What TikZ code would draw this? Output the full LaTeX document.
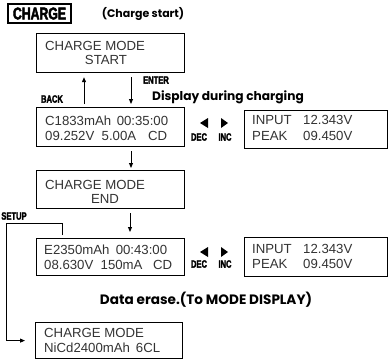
\documentclass[tikz,border=0pt]{standalone}
\usepackage{fontspec}
\setmainfont{Liberation Sans}
\newfontfamily\labfont[FakeStretch=0.72,FakeBold=2.5]{Liberation Sans}
\newfontfamily\geofont{Poppins}
\usetikzlibrary{arrows.meta}
\begin{document}
\begin{tikzpicture}[x=1pt,y=-1pt,
  box/.style={draw=black,line width=1.2pt,anchor=north west,inner sep=0pt},
  txt/.style={anchor=base west,inner sep=0pt,font=\fontsize{13.2}{15}\selectfont,text=black!80},
  lab/.style={inner sep=0pt,font=\labfont\bfseries\fontsize{10.5}{11}\selectfont},
  head/.style={inner sep=0pt,font=\geofont\bfseries\fontsize{11}{12}\selectfont},
  arr/.style={line width=0.9pt,-{Triangle[length=5pt,width=4pt]}},
  tri/.style={fill=black}]
\useasboundingbox (0,0) rectangle (388,360);
% title
\node[draw=black,line width=2pt,minimum width=63pt,minimum height=19pt,inner sep=0pt,
      font=\labfont\bfseries\fontsize{17}{17}\selectfont] (title) at (39.5,13.5) {CHARGE};
\node[head] (hstart) at (143,14) {(Charge start)};
% boxes
\node[box,minimum width=148pt,minimum height=39pt] (b1) at (36,33) {};
\node[box,minimum width=148pt,minimum height=39pt] (b2) at (36,107) {};
\node[box,minimum width=143pt,minimum height=38pt] (b3) at (244,110) {};
\node[box,minimum width=148pt,minimum height=38pt] (b4) at (36,170) {};
\node[box,minimum width=148pt,minimum height=37pt] (b5) at (36,238) {};
\node[box,minimum width=143pt,minimum height=39pt] (b6) at (244,237) {};
\node[box,minimum width=147pt,minimum height=36pt] (b7) at (35,322) {};
% box texts
\node[txt] (t1a) at (45,50) {CHARGE MODE};
\node[txt,anchor=base] (t1b) at (106,64) {START};
\node[txt] (t2a) at (45,125) {\makebox[123pt][l]{C1833mAh\hfill 00:35:00}};
\node[txt] (t2b) at (45,140) {\makebox[122pt][l]{09.252V\ \ 5.00A\hfill CD}};
\node[txt] (t3a) at (252,124) {\makebox[51pt][l]{INPUT}12.343V};
\node[txt] (t3b) at (252,140) {\makebox[51pt][l]{PEAK}09.450V};
\node[txt] (t4a) at (45,189) {CHARGE MODE};
\node[txt,anchor=base] (t4b) at (105,203) {END};
\node[txt] (t5a) at (44,254) {\makebox[123pt][l]{E2350mAh\hfill 00:43:00}};
\node[txt] (t5b) at (44,269) {\makebox[128pt][l]{08.630V\ \ 150mA\hfill CD}};
\node[txt] (t6a) at (252,253) {\makebox[51pt][l]{INPUT}12.343V};
\node[txt] (t6b) at (252,268) {\makebox[51pt][l]{PEAK}09.450V};
\node[txt] (t7a) at (44,337) {CHARGE MODE};
\node[txt] (t7b) at (44,352) {\makebox[116pt][l]{NiCd2400mAh\hfill 6CL}};
% labels
\node[lab] (enter) at (156,80) {ENTER};
\node[lab] (back) at (52,99) {BACK};
\node[head,font=\geofont\bfseries\fontsize{12.2}{13}\selectfont] (hdisp) at (228,97) {Display during charging};
\node[lab] (setup) at (14,216) {SETUP};
\node[head,font=\geofont\bfseries\fontsize{13.6}{15}\selectfont] (herase) at (206,300) {Data erase.(To MODE DISPLAY)};
\node[lab] (dec1) at (199,137) {DEC};
\node[lab] (inc1) at (225,137) {INC};
\node[lab] (dec2) at (199,264) {DEC};
\node[lab] (inc2) at (225,264) {INC};
% triangles
\fill[tri] (200,123) -- (208,118) -- (208,128) -- cycle;
\fill[tri] (228,123) -- (221,118) -- (221,128) -- cycle;
\fill[tri] (200,252) -- (208,247) -- (208,257) -- cycle;
\fill[tri] (228,252) -- (221,247) -- (221,257) -- cycle;
% connectors
\coordinate (xb) at (84,0);
\coordinate (xe) at (131,0);
\coordinate (xd) at (130,0);
\coordinate (xs) at (62,0);
\coordinate (cs) at (6,223);
\draw[arr,shorten <=3pt,shorten >=4pt] (b2.north -| xb) -- (b1.south -| xb);
\draw[arr,shorten <=4pt,shorten >=3pt] (b1.south -| xe) -- (b2.north -| xe);
\draw[arr,shorten <=4pt,shorten >=2pt] (b2.south -| xe) -- (b4.north -| xe);
\draw[arr,shorten <=4pt,shorten >=6pt] (b4.south -| xd) -- (b5.north -| xd);
\draw[arr,shorten <=3pt,shorten >=10pt] (b5.north -| xs) |- (cs) |- (b7.west);
\end{tikzpicture}
\end{document}
